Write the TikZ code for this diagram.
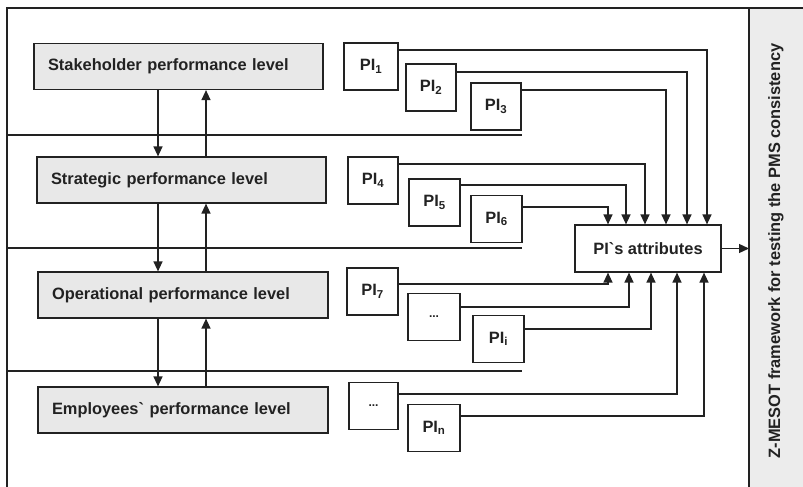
\documentclass[tikz,border=0pt]{standalone}
\usepackage{fontspec}
\setmainfont{Liberation Sans}
\usetikzlibrary{arrows.meta}
\definecolor{lvlfill}{HTML}{E8E8E8}
\definecolor{panelfill}{HTML}{ECECEC}
\definecolor{ink}{HTML}{222222}
\begin{document}
\begin{tikzpicture}[x=1pt,y=-1pt,
  every node/.style={font=\fontsize{16.4}{19}\selectfont\bfseries, text=ink},
  lvlbox/.style={draw=ink, line width=1.2pt, fill=lvlfill, minimum height=46pt, inner xsep=14pt, inner ysep=0pt, text width=#1, align=left},
  pibox/.style={draw=ink, line width=1.2pt, fill=white, minimum height=47pt, minimum width=#1, inner sep=0pt},
  attbox/.style={draw=ink, line width=1.2pt, fill=white, minimum height=47pt, minimum width=146pt, inner sep=0pt},
  dots/.style={font=\fontsize{12}{14}\selectfont\bfseries},
  conn/.style={draw=ink, line width=1.3pt},
  arr/.style={conn, -{Triangle[length=10pt,width=9pt]}}
]
\useasboundingbox (0,0) rectangle (803,487);
% frame and panel
\fill[panelfill] (749,8) rectangle (803,487);
\draw[conn] (7,487) -- (7,8) -- (803,8);
\draw[conn] (749,8) -- (749,487);
\node[rotate=90] (Z) at (776,251) {Z-MESOT framework for testing the PMS consistency};
% separators
\draw[conn] (7,135) -- (522,135);
\draw[conn] (7,248) -- (522,248);
\draw[conn] (7,371) -- (522,371);
% levels
\node[lvlbox=261pt] (S1) at (178.5,66.5) {Stakeholder performance level};
\node[lvlbox=261pt] (S2) at (181.5,180) {Strategic performance level};
\node[lvlbox=262pt] (S3) at (183,295) {Operational performance level};
\node[lvlbox=262pt] (S4) at (183,410) {Employees\textasciigrave{} performance level};
\foreach \a/\b in {S1/S2,S2/S3,S3/S4}{
  \draw[arr] (\a.south -| 158,0) -- (\b.north -| 158,0);
  \draw[arr] (\b.north -| 206,0) -- (\a.south -| 206,0);
}
% PI boxes
\node[pibox=54pt] (p1) at (371,66.5) {PI\textsubscript{1}};
\node[pibox=50pt] (p2) at (431,87.5) {PI\textsubscript{2}};
\node[pibox=50pt] (p3) at (496,106.5) {PI\textsubscript{3}};
\node[pibox=50pt] (p4) at (373,180.5) {PI\textsubscript{4}};
\node[pibox=51pt] (p5) at (434.5,202.5) {PI\textsubscript{5}};
\node[pibox=51pt] (p6) at (496.5,219) {PI\textsubscript{6}};
\node[pibox=51pt] (p7) at (372.5,291.5) {PI\textsubscript{7}};
\node[pibox=52pt, dots] (d1) at (434,317) {...};
\node[pibox=51pt] (pi) at (498.5,339) {PI\textsubscript{i}};
\node[pibox=49pt, dots] (d2) at (373.5,406) {...};
\node[pibox=52pt] (pn) at (434,428) {PI\textsubscript{n}};
\node[attbox] (att) at (648,248.5) {PI\textasciigrave{}s attributes};
% connectors to top
\draw[arr] (p1.east |- 0,50) -| (att.north -| 707,0);
\draw[arr] (p2.east |- 0,72) -| (att.north -| 687,0);
\draw[arr] (p3.east |- 0,90) -| (att.north -| 666,0);
\draw[arr] (p4.east |- 0,164) -| (att.north -| 645,0);
\draw[arr] (p5.east |- 0,185) -| (att.north -| 626,0);
\draw[arr] (p6.east |- 0,207) -| (att.north -| 608,0);
% connectors to bottom
\draw[arr] (p7.east |- 0,284) -| (att.south -| 608,0);
\draw[arr] (d1.east |- 0,307) -| (att.south -| 629,0);
\draw[arr] (pi.east |- 0,329) -| (att.south -| 651,0);
\draw[arr] (d2.east |- 0,394) -| (att.south -| 677,0);
\draw[arr] (pn.east |- 0,416) -| (att.south -| 704,0);
% output
\draw[arr] (att.east) -- (att.east -| 749,0);
\end{tikzpicture}
\end{document}
